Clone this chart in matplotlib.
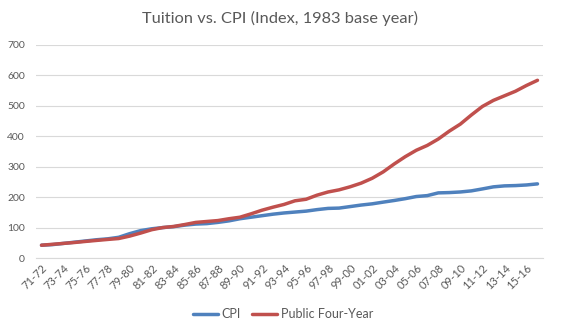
import matplotlib
matplotlib.use("Agg")
import matplotlib.pyplot as plt

years = ["71-72","72-73","73-74","74-75","75-76","76-77","77-78","78-79","79-80","80-81",
         "81-82","82-83","83-84","84-85","85-86","86-87","87-88","88-89","89-90","90-91",
         "91-92","92-93","93-94","94-95","95-96","96-97","97-98","98-99","99-00","00-01",
         "01-02","02-03","03-04","04-05","05-06","06-07","07-08","08-09","09-10","10-11",
         "11-12","12-13","13-14","14-15","15-16","16-17"]

cpi = [42, 44, 48, 52, 56, 60, 63, 68, 80, 90,
       96, 100, 103, 108, 111.5, 113, 117, 122, 129, 134,
       139, 144, 148, 151, 154, 159, 163, 164, 169, 174,
       178, 183.6, 189, 195, 202, 205, 214, 215, 217, 220.6,
       227, 233.8, 237, 238, 240, 243.6]

public4 = [42, 45, 48, 51, 54.5, 57.8, 61, 64, 72, 82,
           93, 100, 103.7, 110, 117, 120, 123, 129, 134, 145,
           157, 167, 176, 188, 193, 206.5, 217, 224, 234, 246,
           262, 283, 309, 333, 354, 370, 391, 417, 440, 470,
           498, 518, 533, 548, 567, 584]

title = "Tuition vs. CPI (Index, 1983 base year)"
series_names = ["CPI", "Public Four-Year"]
colors = ["#4F81BD", "#C0504D"]

plt.rcParams['font.family'] = ['Lato', 'DejaVu Sans']

fig = plt.figure(figsize=(5.61, 3.34), dpi=100)
ax = fig.add_axes([36/561, 1-258/334, (543-36)/561, (258-45)/334])

x = list(range(len(years)))
ax.plot(x, cpi, color=colors[0], lw=2.5, label=series_names[0], solid_capstyle='round')
ax.plot(x, public4, color=colors[1], lw=2.5, label=series_names[1], solid_capstyle='round')

ax.set_xlim(-0.5, len(years) - 0.5)
ax.set_ylim(0, 700)
ax.set_yticks(range(0, 701, 100))
ax.set_xticks(x[::2])
ax.set_xticklabels(years[::2], rotation=45, ha='right', va='top',
                   rotation_mode='anchor', fontsize=8, color='#595959')
ax.tick_params(axis='y', labelsize=7.5, labelcolor='#595959', length=0, pad=8)
ax.tick_params(axis='x', length=0, pad=3)
ax.grid(axis='y', color='#D9D9D9', lw=0.8)
ax.set_axisbelow(True)
for s in ['top', 'right', 'left']:
    ax.spines[s].set_visible(False)
ax.spines['bottom'].set_color('#D9D9D9')
ax.spines['bottom'].set_linewidth(0.8)

fig.suptitle(title, x=280/561, y=1-18/334, va='center', fontsize=11.8, color='#595959')

fig.legend(loc='center', bbox_to_anchor=(283/561, 1-314/334), ncol=2, frameon=False,
           fontsize=9, labelcolor='#595959', handlelength=2.0, columnspacing=0.9,
           handletextpad=0.3)

fig.savefig("out.png", dpi=100, facecolor='white')
